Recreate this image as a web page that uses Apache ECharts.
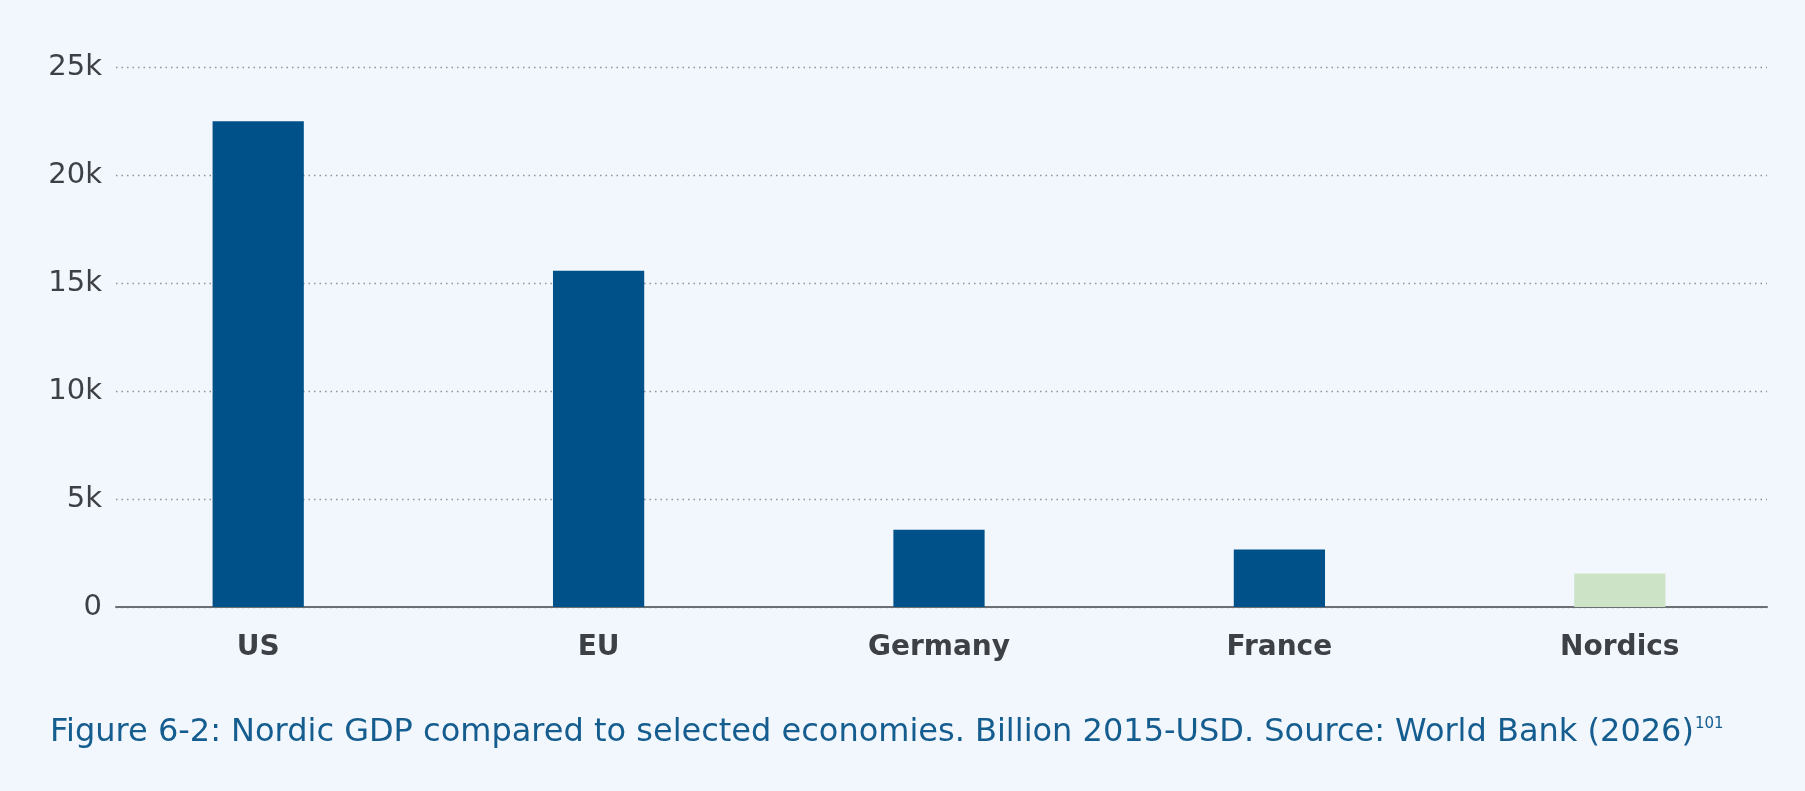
<!DOCTYPE html>
<html>
<head>
<meta charset="utf-8">
<script src="https://cdn.jsdelivr.net/npm/echarts@6/dist/echarts.min.js"></script>
<style>
html,body{margin:0;padding:0;background:#ffffff;}
#chart{width:1805px;height:791px;}
</style>
</head>
<body>
<div id="chart"></div>
<script>
const categories = ['US', 'EU', 'Germany', 'France', 'Nordics'];
const gdpValues = [22490, 15570, 3580, 2660, 1546];
const barColors = ['#00508a', '#00508a', '#00508a', '#00508a', '#cde3c6'];
const yTicks = { min: 0, max: 25000, interval: 5000 };
const captionText = 'Figure 6-2: Nordic GDP compared to selected economies. Billion 2015-USD. Source: World Bank (2026)';
const captionSup = '101';

const chart = echarts.init(document.getElementById('chart'));
const gridTop = 67, gridBottom = 184;
const FONT = 'DejaVu Sans';
chart.setOption({
  backgroundColor: '#f2f7fd',
  animation: false,
  title: {
    left: 45, top: 712,
    text: '{a|' + captionText + '}{s|' + captionSup + '}',
    textStyle: {
      fontWeight: 'normal',
      rich: {
        a: { fontFamily: FONT, fontSize: 32, fontWeight: 'normal', color: '#155d8f', verticalAlign: 'bottom' },
        s: { fontFamily: FONT, fontSize: 15, fontWeight: 'normal', color: '#155d8f', verticalAlign: 'top', padding: [0,0,16,1] }
      }
    }
  },
  grid: [
    { left: 116, right: 38, top: gridTop, bottom: gridBottom },
    { left: 88, right: 15, top: gridTop, bottom: gridBottom }
  ],
  xAxis: [
    { gridIndex: 0, type: 'category', data: categories,
      axisLine: { show: true, lineStyle: { color: '#6c6f74', width: 2 } },
      axisTick: { show: false }, axisLabel: { show: false }, splitLine: { show: false } },
    { gridIndex: 1, type: 'category', data: categories,
      axisLine: { show: false }, axisTick: { show: false },
      axisLabel: { margin: 27, fontFamily: FONT, fontWeight: 'bold', fontSize: 28, color: '#3d4045' } }
  ],
  yAxis: [
    { gridIndex: 0, type: 'value', min: yTicks.min, max: yTicks.max, interval: yTicks.interval,
      axisLine: { show: false }, axisTick: { show: false },
      axisLabel: { margin: 14, fontFamily: FONT, fontSize: 29, color: '#3d4045',
        formatter: v => v === 0 ? '0' : (v / 1000) + 'k' },
      splitLine: { show: true, lineStyle: { type: [1.5, 4], color: '#8c939b', width: 1.3 } } },
    { gridIndex: 1, type: 'value', min: yTicks.min, max: yTicks.max, interval: yTicks.interval,
      show: false, splitLine: { show: false } }
  ],
  series: [{
    type: 'bar', xAxisIndex: 1, yAxisIndex: 1,
    barWidth: '26.8%',
    data: gdpValues.map((v, i) => ({ value: v, itemStyle: { color: barColors[i] } })),
    z: 3
  }]
});
</script>
</body>
</html>
